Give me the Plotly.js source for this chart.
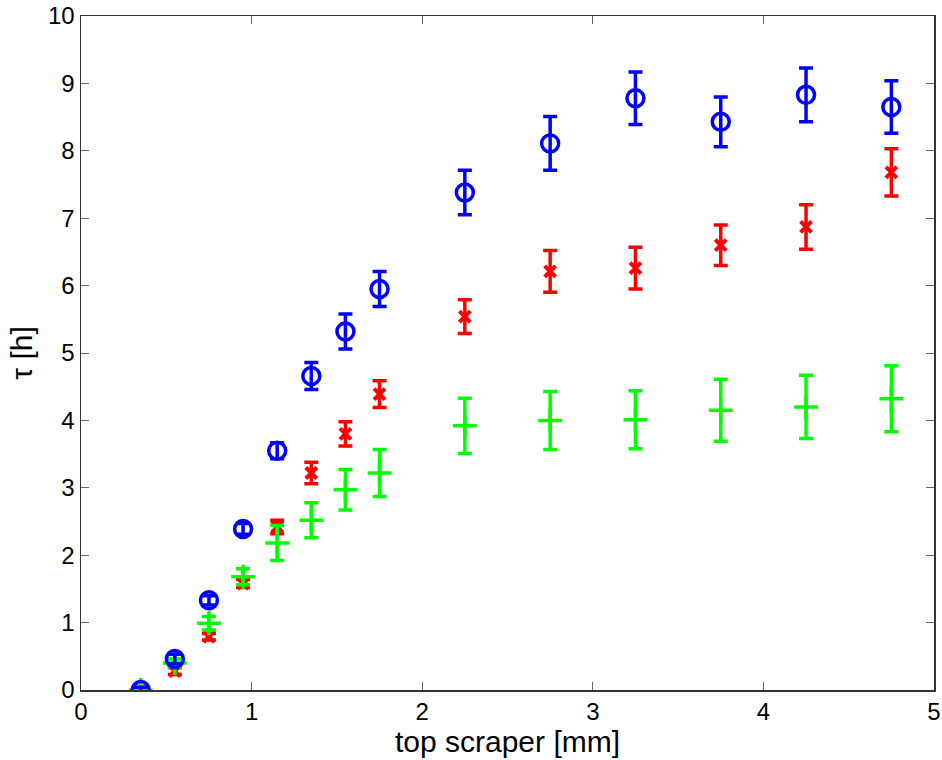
<!DOCTYPE html>
<html><head><meta charset="utf-8">
<script src="https://cdn.plot.ly/plotly-3.0.1.min.js"></script>
<style>html,body{margin:0;padding:0;background:#fff}#chart{width:942px;height:760px}</style>
</head><body><div id="chart"></div>
<script>
const xVals = [0.35,0.55,0.75,0.95,1.15,1.35,1.55,1.75,2.25,2.75,3.25,3.75,4.25,4.75];
const blueY = [0,0.46,1.33,2.39,3.55,4.66,5.32,5.95,7.38,8.11,8.78,8.43,8.83,8.65];
const blueErr = [0.04,0.07,0.07,0.08,0.12,0.2,0.26,0.26,0.33,0.4,0.39,0.37,0.4,0.39];
const redY = [0,0.28,0.79,1.58,2.42,3.22,3.8,4.39,5.54,6.21,6.26,6.6,6.87,7.68];
const redErr = [0.03,0.05,0.05,0.06,0.1,0.16,0.18,0.2,0.25,0.31,0.31,0.3,0.33,0.35];
const greenY = [0,0.4,0.99,1.68,2.18,2.52,2.97,3.22,3.92,4.0,4.01,4.15,4.2,4.32];
const greenErr = [0.05,0.06,0.1,0.12,0.26,0.26,0.3,0.35,0.41,0.43,0.43,0.46,0.47,0.49];
const xTicks = [0,1,2,3,4,5];
const yTicks = [0,1,2,3,4,5,6,7,8,9,10];

function tr(y, err, color, symbol, size, lw) {
  return {
    x: xVals, y: y, type: 'scatter', mode: 'markers',
    marker: {symbol: symbol, size: size, color: color, line: {color: color, width: lw}},
    error_y: {type: 'data', array: err, visible: true, color: color, thickness: 3.5, width: 7},
    showlegend: false, hoverinfo: 'none'
  };
}
const data = [
  tr(redY, redErr, '#ff0000', 'x-thin-open', 11, 4),
  tr(greenY, greenErr, '#00ff00', 'cross-thin-open', 17, 3.5),
  tr(blueY, blueErr, '#0000ff', 'circle-open', 17, 3.5)
];
const fam = 'Liberation Sans, Arial, sans-serif';
const tickFont = {family: fam, size: 24, color: '#000'};
const titleFont = {family: fam, size: 30, color: '#000'};
const layout = {
  width: 942, height: 760,
  margin: {l: 81, r: 8, t: 16, b: 70},
  paper_bgcolor: '#fff', plot_bgcolor: '#fff',
  font: tickFont,
  xaxis: {
    range: [0, 5], tickvals: xTicks, ticks: 'inside', ticklen: 8, tickcolor: '#666',
    showline: true, linecolor: '#333', linewidth: 1.5, mirror: 'ticks', showgrid: false, zeroline: false,
    ticklabeloverflow: 'allow',
    tickfont: tickFont, title: {text: 'top scraper [mm]', font: titleFont, standoff: 2}
  },
  yaxis: {
    range: [0, 10], tickvals: yTicks, ticks: 'inside', ticklen: 8, tickcolor: '#666',
    showline: true, linecolor: '#333', linewidth: 1.5, mirror: 'ticks', showgrid: false, zeroline: false,
    ticklabeloverflow: 'allow',
    tickfont: tickFont, title: {text: 'τ [h]', font: titleFont, standoff: 6}
  }
};
Plotly.newPlot('chart', data, layout, {staticPlot: true});
</script></body></html>
